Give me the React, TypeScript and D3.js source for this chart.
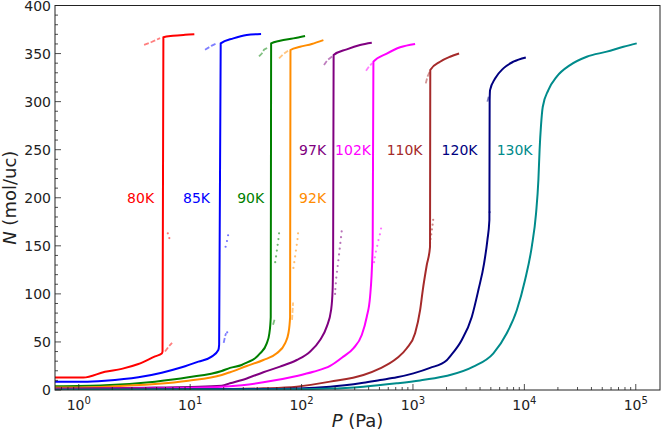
import React, { useRef, useEffect } from "react";
import * as d3 from "d3";

type Pt = [number, number];

interface Isotherm {
  label: string;
  color: string;
  labelP: number;
  labelN: number;
  ads: Pt[];
  desSegs: Pt[][];
  desDots: Pt[];
}

// [P (Pa), N (mol/uc)]
const ads80: Pt[] = [[0.61, 13], [1.1, 13], [1.72, 19], [2.43, 22], [3.43, 27], [4.84, 35], [5.56, 38], [5.65, 40], [5.75, 367], [7, 368.5], [9, 369.5], [10.9, 370]];
const ads85: Pt[] = [[0.61, 8.7], [1.1, 8.7], [1.72, 9.7], [3.43, 13.2], [5.56, 18], [8.41, 23.6], [11.85, 29.5], [15.6, 34.7], [17.9, 41.6], [18.2, 47], [18.8, 360.6], [24.4, 365.8], [32.2, 369.3], [43.3, 370.3]];
const ads90: Pt[] = [[0.61, 4], [1.72, 5], [4.84, 8.7], [9.63, 13.2], [19.2, 19.8], [22.8, 23], [29, 26], [32.2, 28.5], [38.3, 33], [42.4, 38], [48.7, 48.5], [51.4, 59], [52.9, 76], [53.3, 360.6], [64.1, 363.4], [84.4, 365.8], [107.5, 368.3]];
const ads92: Pt[] = [[0.61, 2.5], [1.72, 3.5], [4.84, 6.2], [9.63, 9.7], [19.2, 15.6], [22.8, 18.5], [32.2, 25], [45.4, 31.2], [59.9, 38.2], [71.1, 48.5], [76.2, 59], [78.9, 76], [79.5, 353.7], [97, 357], [123.5, 360], [157, 364]];
const ads97: Pt[] = [[0.61, 1.5], [4.84, 2.5], [19.2, 4.5], [22.8, 7], [32.2, 12], [45.4, 18.5], [64.1, 24.3], [90.6, 31.2], [119, 39.8], [146.6, 52], [168.3, 65.9], [184, 83], [190, 104], [192, 140], [194, 348.5], [254.5, 354.4], [335, 359], [427, 361.3]];
const ads102: Pt[] = [[0.61, 1], [4.84, 1.5], [22.8, 4], [45.4, 8], [90.6, 14.6], [127.6, 19], [180.4, 25], [237, 34.7], [291.7, 43.4], [347, 57.2], [384.5, 76], [412, 97], [435, 150], [441.5, 341.5], [582, 350], [766, 356.5], [1045, 360]];
const ads110: Pt[] = [[0.61, 0.5], [22.8, 1], [45.4, 1.7], [90.6, 3.5], [180.4, 8.7], [359, 15.6], [507, 22.5], [716, 33], [880, 43.4], [1045, 59], [1159, 83], [1225, 104], [1330, 130], [1423, 149], [1430, 333], [1751, 341.5], [2153, 346.7], [2595, 350]];
const ads120: Pt[] = [[0.61, 0.3], [45.4, 1], [180.4, 3.5], [359, 7.6], [507, 10.4], [716, 13.2], [1009, 17.3], [1423, 23], [2011, 31], [2153, 35], [2742, 52], [3372, 76], [3866, 104], [4350, 131.8], [4657, 156], [4853, 176.8], [4880, 301.7], [4921, 312], [5458, 324], [6478, 334.6], [7962, 341.5], [10300, 346]];
const ads130: Pt[] = [[0.61, 0.2], [45.4, 0.5], [180.4, 1.5], [359, 3.5], [716, 7], [1159, 10], [1875, 14], [2153, 15.6], [3484, 24.3], [5272, 38.2], [6950, 59], [8547, 83], [10140, 114.4], [11650, 149], [12730, 183.8], [13360, 218.5], [13700, 250], [14100, 275], [14630, 294.7], [16410, 312], [19530, 326], [25720, 338], [36300, 346.7], [54900, 352], [77500, 357], [102000, 360.6]];

// faded desorption pieces
const des80: Pt[][] = [[[3.86, 359], [4.5, 362], [5.37, 366]], [[5.95, 40], [6.4, 45], [6.88, 49]]];
const des85: Pt[][] = [[[13.6, 354], [15.5, 358], [17.5, 361]], [[20, 49], [20.6, 56], [21, 59]]];
const des90: Pt[][] = [[[41.5, 347], [44, 350], [46, 354], [49.3, 356]], [[55.5, 68], [57.8, 75]]];
const des92: Pt[][] = [[[62.8, 345], [68, 349], [75.6, 353]], [[82.2, 73], [83, 82], [83.9, 91]]];
const des97: Pt[][] = [[[159, 338], [170, 343], [188, 347]]];
const des102: Pt[][] = [[[379, 332], [400, 336], [430, 340]]];
const des110: Pt[][] = [[[1303, 319], [1350, 326], [1423, 332]]];
const des120: Pt[][] = [[[4657, 300], [4786, 305]]];

const dots80: Pt[] = [[6.3, 163], [6.5, 158]];
const dots85: Pt[] = [[21.9, 161], [21.4, 155], [20.8, 149], [21.5, 60]];
const dots90: Pt[] = [[62.8, 163], [62, 157], [61, 151], [60, 145], [59, 139], [58, 133]];
const dots92: Pt[] = [[93, 163], [92, 157], [90.5, 151], [89, 145], [87.5, 139], [86, 133], [84.5, 127]];
const dots97: Pt[] = [[229, 165], [226, 159], [223, 153], [220, 147], [217, 141], [214, 135], [211, 129], [208, 123], [205, 117], [203, 111], [201, 105], [200, 100]];
const dots102: Pt[] = [[517, 168], [505, 162], [490, 156], [478, 150], [465, 144], [455, 138], [448, 133]];
const dots110: Pt[] = [[1518, 177], [1500, 172], [1480, 167], [1460, 162], [1440, 157], [1425, 153]];
const dots120: Pt[] = [[4880, 185]];

const isotherms: Isotherm[] = [
  { label: "80K", color: "#ff0000", labelP: 3.59, labelN: 200, ads: ads80, desSegs: des80, desDots: dots80 },
  { label: "85K", color: "#0000ff", labelP: 11.4, labelN: 200, ads: ads85, desSegs: des85, desDots: dots85 },
  { label: "90K", color: "#008000", labelP: 34.9, labelN: 200, ads: ads90, desSegs: des90, desDots: dots90 },
  { label: "92K", color: "#ff8c00", labelP: 125.6, labelN: 200, ads: ads92, desSegs: des92, desDots: dots92 },
  { label: "97K", color: "#800080", labelP: 125.6, labelN: 249.5, ads: ads97, desSegs: des97, desDots: dots97 },
  { label: "102K", color: "#ff00ff", labelP: 290, labelN: 249.5, ads: ads102, desSegs: des102, desDots: dots102 },
  { label: "110K", color: "#a52a2a", labelP: 841, labelN: 249.5, ads: ads110, desSegs: des110, desDots: dots110 },
  { label: "120K", color: "#000080", labelP: 2620, labelN: 249.5, ads: ads120, desSegs: des120, desDots: dots120 },
  { label: "130K", color: "#008b8b", labelP: 8170, labelN: 249.5, ads: ads130, desSegs: [], desDots: [] },
];

const xMajor = [1, 10, 100, 1000, 10000, 100000];
const xMajorExp = ["0", "1", "2", "3", "4", "5"];
const yMajor = [0, 50, 100, 150, 200, 250, 300, 350, 400];

const W = 664;
const H = 431;
const margin = { left: 55, right: 4, top: 5.5, bottom: 41 };
const FONT = "DejaVu Sans, sans-serif";

const App: React.FC = () => {
  const svgRef = useRef<SVGSVGElement>(null);

  useEffect(() => {
    if (!svgRef.current) return;
    const svg = d3.select(svgRef.current);
    svg.selectAll("*").remove();

    const x = d3.scaleLog().domain([0.612, 165000]).range([margin.left, W - margin.right]);
    const y = d3.scaleLinear().domain([0, 400]).range([H - margin.bottom, margin.top]);

    const clipId = "plot-clip";
    svg
      .append("defs")
      .append("clipPath")
      .attr("id", clipId)
      .append("rect")
      .attr("x", margin.left)
      .attr("y", margin.top)
      .attr("width", W - margin.left - margin.right)
      .attr("height", H - margin.top - margin.bottom);

    const line = d3
      .line<Pt>()
      .x((d) => x(d[0]))
      .y((d) => y(d[1]));

    const smooth = d3
      .line<Pt>()
      .x((d) => x(d[0]))
      .y((d) => y(d[1]))
      .curve(d3.curveMonotoneX);

    const plot = svg.append("g").attr("clip-path", `url(#${clipId})`);

    isotherms.forEach((iso) => {
      iso.desSegs.forEach((seg) => {
        plot
          .append("path")
          .datum(seg)
          .attr("fill", "none")
          .attr("stroke", iso.color)
          .attr("stroke-opacity", 0.5)
          .attr("stroke-width", 1.8)
          .attr("stroke-dasharray", "5,2")
          .attr("d", line);
      });
      plot
        .selectAll(null)
        .data(iso.desDots)
        .enter()
        .append("circle")
        .attr("cx", (d) => x(d[0]))
        .attr("cy", (d) => y(d[1]))
        .attr("r", 1.1)
        .attr("fill", iso.color)
        .attr("fill-opacity", 0.55);
    });

    isotherms.forEach((iso) => {
      plot
        .append("path")
        .datum(iso.ads)
        .attr("fill", "none")
        .attr("stroke", iso.color)
        .attr("stroke-width", 2)
        .attr("stroke-linejoin", "round")
        .attr("d", smooth);
    });

    // temperature labels
    isotherms.forEach((iso) => {
      svg
        .append("text")
        .attr("x", x(iso.labelP))
        .attr("y", y(iso.labelN))
        .attr("dy", "0.36em")
        .attr("text-anchor", "middle")
        .attr("font-family", FONT)
        .attr("font-size", 14)
        .attr("fill", iso.color)
        .text(iso.label);
    });

    // frame
    svg
      .append("rect")
      .attr("x", margin.left)
      .attr("y", margin.top)
      .attr("width", W - margin.left - margin.right)
      .attr("height", H - margin.top - margin.bottom)
      .attr("fill", "none")
      .attr("stroke", "#222")
      .attr("stroke-width", 1);

    const y0 = H - margin.bottom;
    const axis = svg.append("g").attr("stroke", "#222").attr("stroke-width", 0.8);

    // x ticks (inward)
    const [dx0, dx1] = x.domain();
    for (let e = -1; e <= 5; e++) {
      for (let m = 1; m <= 9; m++) {
        const v = m * Math.pow(10, e);
        if (v < dx0 || v > dx1) continue;
        const len = m === 1 ? 6 : 3;
        axis.append("line").attr("x1", x(v)).attr("x2", x(v)).attr("y1", y0).attr("y2", y0 - len);
      }
    }
    // y ticks (inward)
    for (let v = 0; v <= 400; v += 10) {
      const len = v % 50 === 0 ? 6 : 3;
      axis
        .append("line")
        .attr("x1", margin.left)
        .attr("x2", margin.left + len)
        .attr("y1", y(v))
        .attr("y2", y(v));
    }

    xMajor.forEach((v, i) => {
      const t = svg
        .append("text")
        .attr("x", x(v))
        .attr("y", y0 + 20)
        .attr("text-anchor", "middle")
        .attr("font-family", FONT)
        .attr("font-size", 14)
        .attr("fill", "#222");
      t.append("tspan").text("10");
      t.append("tspan").attr("dy", -6).attr("font-size", 10).text(xMajorExp[i]);
    });

    yMajor.forEach((v) => {
      svg
        .append("text")
        .attr("x", margin.left - 4)
        .attr("y", y(v))
        .attr("dy", "0.36em")
        .attr("text-anchor", "end")
        .attr("font-family", FONT)
        .attr("font-size", 14)
        .attr("fill", "#222")
        .text(v);
    });

    const xl = svg
      .append("text")
      .attr("x", (margin.left + W - margin.right) / 2)
      .attr("y", 427)
      .attr("text-anchor", "middle")
      .attr("font-family", FONT)
      .attr("font-size", 18)
      .attr("fill", "#222");
    xl.append("tspan").attr("font-style", "italic").text("P");
    xl.append("tspan").text(" (Pa)");

    const yl = svg
      .append("text")
      .attr("transform", `translate(16,${(margin.top + y0) / 2}) rotate(-90)`)
      .attr("text-anchor", "middle")
      .attr("font-family", FONT)
      .attr("font-size", 18)
      .attr("fill", "#222");
    yl.append("tspan").attr("font-style", "italic").text("N");
    yl.append("tspan").text(" (mol/uc)");
  }, []);

  return (
    <svg
      ref={svgRef}
      width={W}
      height={H}
      style={{ position: "absolute", left: 0, top: 0, background: "#fff" }}
    />
  );
};

export default App;
